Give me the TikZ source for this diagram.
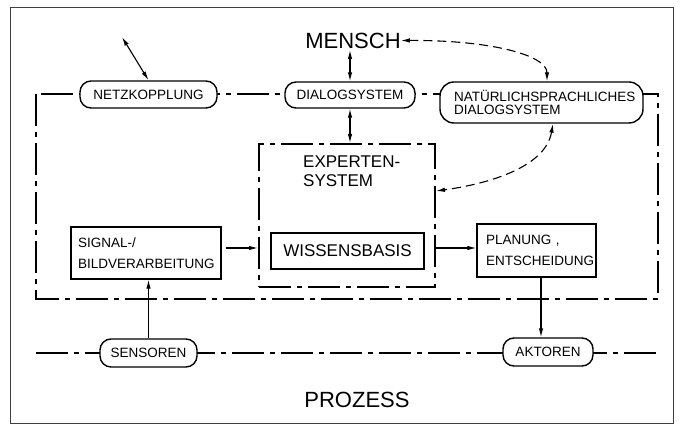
\documentclass[tikz,border=0pt]{standalone}
\usepackage{fontspec}
\setmainfont{Liberation Sans}
\usetikzlibrary{arrows.meta}
\begin{document}
\begin{tikzpicture}[x=1pt,y=-1pt,
  pill/.style={draw, line width=1.4pt, fill=white, rounded corners=11pt, inner sep=0pt, font=\fontsize{13.5}{15}\selectfont},
  sbox/.style={draw, line width=1.3pt, fill=white, inner sep=0pt, font=\fontsize{13.5}{21}\selectfont},
  dashdot/.style={line width=2pt, dash pattern=on 32pt off 6pt on 5pt off 6pt},
  tip/.tip={Latex[length=9pt,width=4.5pt]},
  arr/.style={line width=1.1pt, -tip},
  darr/.style={line width=1.1pt, tip-tip},
  ddarr/.style={darr, dash pattern=on 9pt off 5pt},
  big/.style={font=\fontsize{22}{24}\selectfont, inner sep=0pt}
]
\useasboundingbox (0,0) rectangle (681,427);
\draw[line width=0.8pt, black!75] (10,7) rectangle (673,423);

% system frame and process line
\draw[dashdot] (36,94) rectangle (658,299);
\draw[dashdot] (36,353) -- (660,353);

% expert system frame
\node[draw, dashdot, minimum width=176pt, minimum height=143pt, inner sep=0pt] (expert) at (347,215.5) {};
\node[anchor=north west, inner sep=0pt, align=left, font=\fontsize{17}{19}\selectfont] (exptext) at (303,156) {EXPERTEN-\\SYSTEM};

% nodes
\node[big] (mensch) at (353,40.5) {MENSCH};
\node[big] (prozess) at (357,400) {PROZESS};
\node[pill, minimum width=137pt, minimum height=27pt] (netz) at (148.5,94.5) {NETZKOPPLUNG};
\node[pill, minimum width=130pt, minimum height=26pt] (dialog) at (350,95) {DIALOGSYSTEM};
\node[pill, rounded corners=14pt, minimum width=203pt, minimum height=41pt, text width=175pt, align=left, inner xsep=14pt, font=\fontsize{13.5}{13.5}\selectfont] (natur) at (541.5,102.5) {NATÜRLICHSPRACHLICHES\\DIALOGSYSTEM};
\node[pill, minimum width=97pt, minimum height=28pt] (sens) at (148.5,353) {SENSOREN};
\node[pill, minimum width=90pt, minimum height=28pt] (akt) at (548,352) {AKTOREN};
\node[sbox, minimum width=153pt, minimum height=36pt, font=\fontsize{17}{18}\selectfont] (wissen) at (347.5,251) {WISSENSBASIS};
\node[sbox, minimum width=150pt, minimum height=52pt, text width=136pt, inner xsep=7pt, align=left] (signal) at (146,253) {SIGNAL-/\\BILDVERARBEITUNG};
\node[sbox, minimum width=119pt, minimum height=53pt, text width=101pt, inner xsep=9pt, align=left] (plan) at (536.5,250.5) {PLANUNG ,\\ENTSCHEIDUNG};

% connectors
\coordinate (free) at (122,37);
\draw[darr] (free) -- (netz.north);
\draw[darr, shorten <=1.5pt] (mensch.south -| dialog.north) -- (dialog.north);
\draw[darr] (dialog.south) -- (dialog.south |- expert.north);
\draw[ddarr] (mensch.east) .. controls (490,40) and (547,55) .. ([xshift=5.5pt]natur.north);
\draw[ddarr] ([xshift=11.5pt]natur.south) .. controls (545,170) and (480,185) .. ([yshift=24.5pt]expert.east);
\draw[arr, shorten <=4pt] ([yshift=5pt]signal.east) -- ([yshift=-32.5pt]expert.west);
\draw[arr] ([yshift=-32.5pt]expert.east) -- ([yshift=2.5pt]plan.west);
\draw[arr] ([xshift=4.5pt]plan.south) -- ([xshift=-7pt]akt.north);
\draw[arr] (sens.north) -- (sens.north |- signal.south);
\end{tikzpicture}
\end{document}
